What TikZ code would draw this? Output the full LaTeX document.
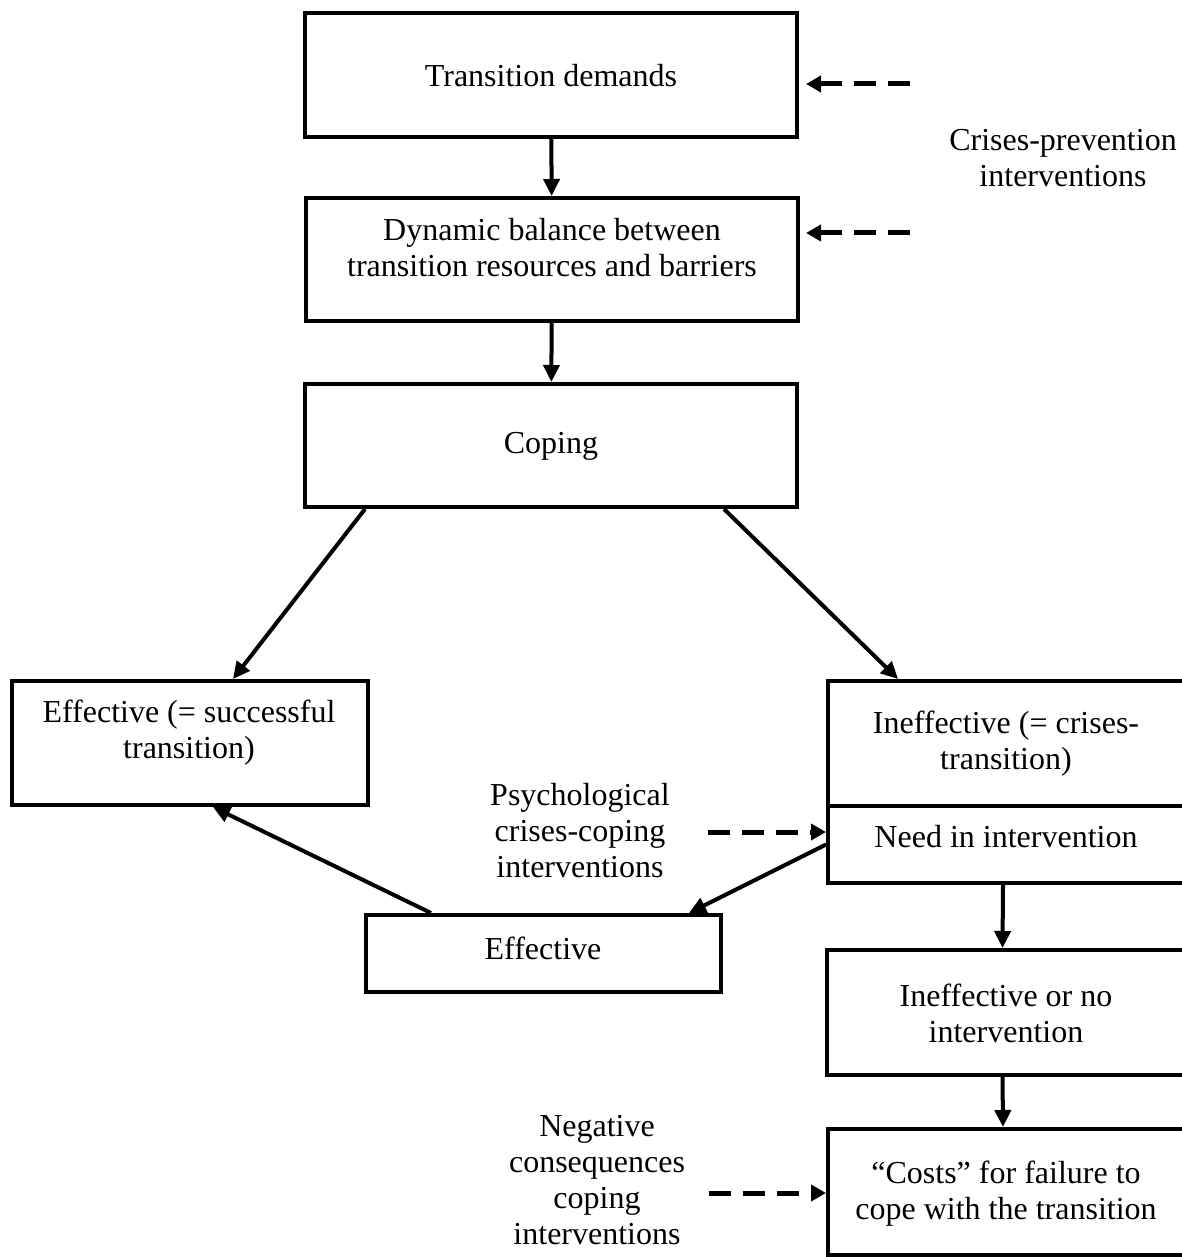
\documentclass[tikz,border=0pt]{standalone}
\usepackage{fontspec}
\setmainfont{Liberation Serif}
\usetikzlibrary{arrows.meta,calc}
\begin{document}
\begin{tikzpicture}[x=1pt,y=-1pt,
  box/.style={draw,line width=4pt,rectangle,inner sep=0pt,line join=miter},
  txt/.style={align=center,font=\fontsize{32}{36}\selectfont,inner sep=0pt},
  arr/.style={line width=4pt,-{Triangle[length=17pt,width=16pt]}},
  darr/.style={line width=5pt,dash pattern=on 22pt off 12pt,-{Triangle[length=15pt,width=16pt]}}]
\useasboundingbox (0,0) rectangle (1181,1257);
% boxes
\node[box,minimum width=492pt,minimum height=124pt] (b1) at (551,75) {};
\node[box,minimum width=492pt,minimum height=123pt] (b2) at (552,259.5) {};
\node[box,minimum width=492pt,minimum height=123pt] (b3) at (551,445.5) {};
\node[box,minimum width=356pt,minimum height=124pt] (eff) at (190,743) {};
\node[box,minimum width=356pt,minimum height=125pt] (ineff) at (1006,743.5) {};
\node[box,minimum width=356pt,minimum height=77pt] (need) at (1006,844.5) {};
\node[box,minimum width=355pt,minimum height=77pt] (eff2) at (543.5,953.5) {};
\node[box,minimum width=357pt,minimum height=125pt] (inoff) at (1005.5,1012.5) {};
\node[box,minimum width=356pt,minimum height=126pt] (costs) at (1006,1192) {};
% texts
\node[txt] (t1) at (551,76) {Transition demands};
\node[txt] (t2) at (552,248) {Dynamic balance between\\transition resources and barriers};
\node[txt] (t3) at (551,446) {Coping};
\node[txt] (t4) at (189,733) {Effective (= successful\\transition)};
\node[txt] (t5) at (1006,744) {Ineffective (= crises-\\transition)};
\node[txt] (t6) at (1006,837) {Need in intervention};
\node[txt] (t7) at (543,948) {Effective};
\node[txt] (t8) at (1006,1013) {Ineffective or no\\intervention};
\node[txt] (t9) at (1006,1194) {``Costs'' for failure to\\cope with the transition};
\node[txt] (t10) at (1063,158) {Crises-prevention\\interventions};
\node[txt] (t11) at (580,831) {Psychological\\crises-coping\\interventions};
\node[txt] (t12) at (597,1180) {Negative\\consequences\\coping\\interventions};
% solid connectors
\draw[arr] (b1) -- (b2);
\draw[arr] (b2) -- (b3);
\draw[arr] ($(b3.south west)+(62,0)$) -- ($(eff.north)+(43,0)$);
\draw[arr] ($(b3.south east)+(-75,0)$) -- ($(ineff.north west)+(72,0)$);
\draw[arr] (need.west) -- ($(eff2.north east)+(-34,0)$);
\draw[arr] ($(eff2.north west)+(67,0)$) -- ($(eff.south)+(23,0)$);
\draw[arr] ($(need.south)+(-3,0)$) -- ($(inoff.north)+(-3,0)$);
\draw[arr] ($(inoff.south)+(-3,0)$) -- ($(costs.north)+(-3,0)$);
% dashed connectors
\coordinate (d1s) at (910,84);
\coordinate (d1e) at (806,84);
\coordinate (d2s) at (910,233);
\coordinate (d2e) at (806,233);
\coordinate (p1) at (708,832);
\coordinate (n1) at (709,1193);
\draw[darr] (d1s) -- (d1e);
\draw[darr] (d2s) -- (d2e);
\draw[darr] (p1) -- (p1 -| need.west);
\draw[darr] (n1) -- (n1 -| costs.west);
\end{tikzpicture}
\end{document}
